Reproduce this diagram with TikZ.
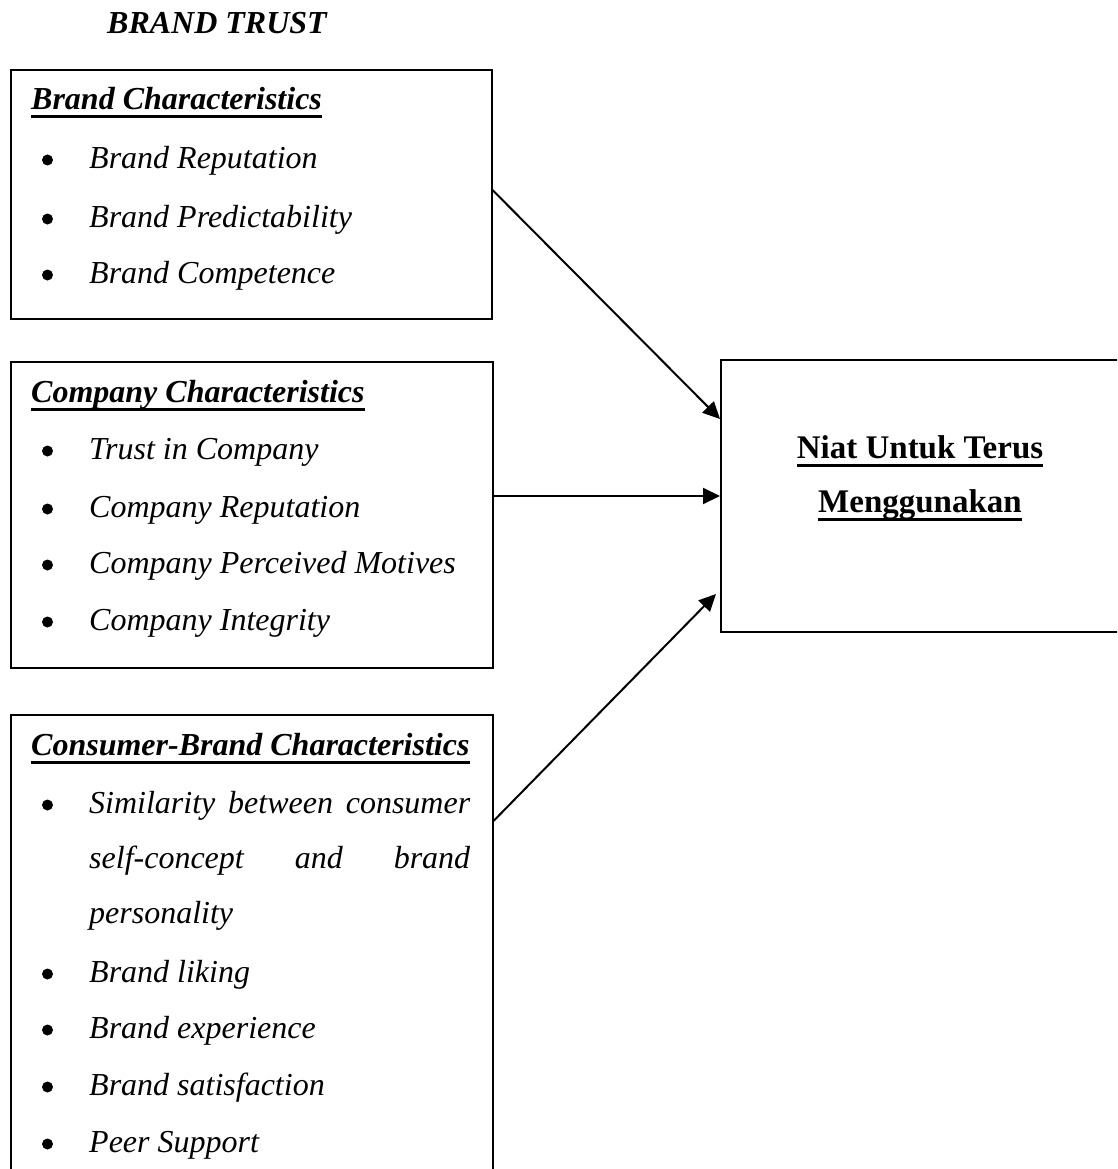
\documentclass[tikz,border=0pt]{standalone}
\usepackage{fontspec}
\setmainfont{Liberation Serif}
\usetikzlibrary{arrows.meta,calc}
\newcommand\myul[1]{\setbox0\hbox{#1}\rlap{\rule[-8.5pt]{\wd0}{3pt}}\box0}
\begin{document}
\begin{tikzpicture}[x=1pt,y=-1pt,
  frame/.style={draw,line width=2pt,inner sep=0},
  txt/.style={font=\fontsize{32}{40}\selectfont\itshape,inner sep=0,anchor=base west},
  hdr/.style={font=\fontsize{32}{40}\selectfont\bfseries\itshape,inner sep=0,anchor=base west},
  tgt/.style={font=\fontsize{33}{40}\selectfont\bfseries,inner sep=0,anchor=base},
  bul/.style={circle,fill,inner sep=0,minimum size=11pt},
  arr/.style={line width=2pt,-{Triangle[length=17pt,width=16pt]}}]
\useasboundingbox (0,0) rectangle (1117,1169);
\clip (0,0) rectangle (1117,1169);
% boxes
\node[frame,minimum width=481pt,minimum height=249pt] (b1) at (251,194.5) {};
\node[frame,minimum width=482pt,minimum height=306pt] (b2) at (251.5,514.5) {};
\node[frame,minimum width=482pt,minimum height=500pt] (b3) at (251.5,965) {};
\node[frame,minimum width=420pt,minimum height=272pt] (b4) at (931,496) {};
% title
\node[hdr] (title) at (107,34) {BRAND TRUST};
% box 1
\node[hdr] (h1) at (31,110) {\myul{Brand Characteristics}};
\node[bul] (p11) at (47.5,160) {};
\node[txt] (i11) at (89,168) {Brand Reputation};
\node[bul] (p12) at (47.5,219) {};
\node[txt] (i12) at (89,227) {Brand Predictability};
\node[bul] (p13) at (47.5,275) {};
\node[txt] (i13) at (89,283) {Brand Competence};
% box 2
\node[hdr] (h2) at (31,402) {\myul{Company Characteristics}};
\node[bul] (p21) at (47.5,451) {};
\node[txt] (i21) at (89,459) {Trust in Company};
\node[bul] (p22) at (47.5,509) {};
\node[txt] (i22) at (89,517) {Company Reputation};
\node[bul] (p23) at (47.5,565) {};
\node[txt] (i23) at (89,573) {Company Perceived Motives};
\node[bul] (p24) at (47.5,622) {};
\node[txt] (i24) at (89,630) {Company Integrity};
% box 3
\node[hdr] (h3) at (31,755) {\myul{Consumer-Brand Characteristics}};
\node[bul] (p31) at (47.5,805) {};
\node[txt] (i31) at (89,813) {\makebox[381pt][s]{Similarity between consumer}};
\node[txt] (i31b) at (89,868) {\makebox[381pt][s]{self-concept and brand}};
\node[txt] (i31c) at (89,923) {personality};
\node[bul] (p32) at (47.5,974) {};
\node[txt] (i32) at (89,982) {Brand liking};
\node[bul] (p33) at (47.5,1030) {};
\node[txt] (i33) at (89,1038) {Brand experience};
\node[bul] (p34) at (47.5,1087) {};
\node[txt] (i34) at (89,1095) {Brand satisfaction};
\node[bul] (p35) at (47.5,1144) {};
\node[txt] (i35) at (89,1152) {Peer Support};
% target
\node[tgt] (n1) at (920,458) {\myul{Niat Untuk Terus}};
\node[tgt] (n2) at (920,512) {\myul{Menggunakan}};
% arrows
\draw[arr] ($(b1.north east)+(0,121)$) -- ($(b4.north west)+(0,60)$);
\draw[arr] (b2.east |- b4.west) -- (b4.west);
\draw[arr] ($(b3.north east)+(0,107)$) -- ($(b4.north west)+(-4,235)$);
\end{tikzpicture}
\end{document}
